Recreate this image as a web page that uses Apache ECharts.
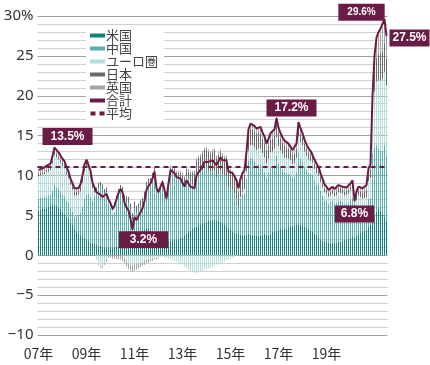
<!DOCTYPE html>
<html><head><meta charset="utf-8">
<script src="https://cdn.jsdelivr.net/npm/echarts@6/dist/echarts.min.js"></script>
<style>html,body{margin:0;padding:0;background:#fff}#c{width:430px;height:365px}</style>
</head><body><div id="c"></div>
<script>
const START_YEAR = 2007;
const MONTHS = 175;
const TICK_LABELS = ['07年','09年','11年','13年','15年','17年','19年'];
const AVERAGE = 11.1;

const US = [
5.6,5.7,5.8,5.9,6.0,6.1,6.2,6.3,6.3,6.2,6.0,5.8,
5.5,5.2,4.8,4.5,4.1,3.8,3.4,3.0,2.7,2.5,2.3,2.2,
2.0,1.8,1.6,1.5,1.4,1.3,1.2,1.2,1.1,1.0,1.0,1.0,
0.9,1.0,1.0,1.1,1.2,1.3,1.4,1.6,1.8,2.0,2.0,2.1,
2.2,2.3,2.5,2.7,3.0,3.2,3.4,3.3,3.0,2.8,2.5,2.3,
2.0,1.9,1.8,1.8,1.7,1.8,1.8,1.9,1.9,2.0,2.0,2.2,
2.3,2.5,2.7,2.9,3.1,3.3,3.5,3.6,3.8,3.9,4.0,4.1,
4.2,4.3,4.4,4.4,4.5,4.4,4.3,4.2,4.0,3.8,3.6,3.4,
3.2,3.0,2.8,2.7,2.6,2.6,2.5,2.5,2.6,2.7,2.6,2.5,
2.4,2.4,2.3,2.5,2.6,2.7,2.6,2.5,2.7,2.9,3.0,3.1,
3.2,3.3,3.2,3.3,3.4,3.5,3.6,3.7,3.8,3.8,3.9,3.8,
3.7,3.6,3.5,3.3,3.1,2.9,2.7,2.4,2.2,2.0,1.8,1.7,
1.6,1.6,1.5,1.5,1.6,1.6,1.7,1.7,1.8,1.9,2.0,2.1,
2.2,2.3,2.2,2.4,2.6,2.8,3.0,3.1,3.2,3.5,3.8,4.5,
5.0,5.5,5.8,5.6,5.2,4.8,4.3];

const CHINA = [
1.5,1.5,1.4,1.4,1.4,1.4,1.4,1.8,2.5,2.3,2.3,2.2,
2.1,2.2,2.0,2.1,1.8,1.7,1.5,2.0,2.4,2.8,3.8,4.9,
5.6,5.9,5.7,5.3,6.1,6.6,7.3,7.4,7.2,6.7,6.9,5.5,
4.9,4.1,4.4,5.3,6.1,6.7,6.5,5.3,4.8,4.5,3.7,2.4,
3.7,3.1,3.3,3.5,3.5,4.1,5.2,5.7,6.1,6.9,7.9,6.0,
5.7,6.3,7.0,6.0,5.1,6.9,8.6,8.4,8.3,7.8,7.7,7.5,
7.1,6.5,7.2,6.6,6.0,5.6,5.2,6.5,6.5,6.5,6.7,6.9,
6.9,6.4,6.0,6.2,6.2,5.4,5.9,6.5,6.2,6.2,6.4,5.2,
5.2,5.2,5.0,4.4,3.5,4.5,5.1,5.2,7.0,9.2,9.7,9.6,
9.3,8.9,9.1,8.9,8.3,7.7,7.1,7.8,8.3,8.1,8.3,9.4,
8.3,7.7,7.5,7.0,6.9,6.7,6.5,6.0,6.0,6.6,9.0,8.3,
8.1,7.5,7.2,7.0,7.1,7.2,6.7,6.6,6.6,6.1,5.7,5.3,
5.2,4.9,5.2,5.4,4.9,5.0,5.2,5.1,4.9,4.5,4.5,4.4,
4.7,4.9,2.5,3.2,3.5,3.0,2.5,2.4,2.3,3.6,3.4,8.2,
8.5,8.3,7.6,7.5,7.9,9.0,8.2];

const EURO = [
2.8,2.8,2.9,2.9,3.0,3.0,3.1,3.4,3.8,3.8,3.7,3.6,
3.6,3.5,3.3,3.1,2.9,2.7,2.6,2.5,2.5,2.7,3.0,3.4,
3.6,3.3,2.6,1.6,0.4,-0.6,-1.2,-1.5,-1.4,-1.0,-0.5,0.2,
0.4,0.5,0.6,0.5,0.3,0.1,-0.1,-0.4,-0.7,-1.0,-1.2,-1.3,
-1.2,-1.1,-1.0,-0.9,-0.8,-0.7,-0.6,-0.5,-0.4,-0.4,-0.3,-0.3,
-0.3,-0.2,-0.2,-0.3,-0.4,-0.4,-0.5,-0.6,-0.7,-0.8,-0.9,-1.0,
-1.2,-1.4,-1.6,-1.8,-2.0,-2.1,-2.2,-2.2,-2.1,-2.0,-1.9,-1.8,
-1.7,-1.6,-1.5,-1.4,-1.3,-1.2,-1.1,-1.0,-0.9,-0.8,-0.6,-0.5,
-0.4,-0.3,-0.2,-0.1,0.0,0.2,0.4,0.6,0.9,1.2,1.5,1.7,
1.8,1.9,2.0,2.0,1.9,1.9,1.8,1.8,1.9,2.0,2.1,2.3,
2.2,2.1,2.0,2.0,1.9,1.9,1.8,1.7,1.7,1.8,2.0,2.1,
2.0,1.9,1.8,1.7,1.6,1.5,1.4,1.3,1.2,1.1,1.0,0.9,
0.9,0.8,0.8,0.8,0.9,0.9,1.0,1.0,1.0,1.1,1.1,1.2,
1.2,1.3,1.2,1.3,1.4,1.5,1.6,1.7,1.8,2.2,2.5,5.0,
7.0,8.0,8.5,8.8,9.0,9.2,8.8];

const JAPAN = [
0.3,0.3,0.3,0.3,0.3,0.3,0.3,0.4,0.4,0.4,0.4,0.4,
0.4,0.4,0.4,0.4,0.4,0.4,0.5,0.5,0.5,0.6,0.6,0.6,
0.6,0.6,0.6,0.6,0.6,0.6,0.6,0.6,0.6,0.6,0.6,0.6,
0.6,0.6,0.6,0.6,0.7,0.7,0.7,0.7,0.8,0.8,0.8,0.8,
0.8,0.8,0.7,0.7,0.7,0.7,0.6,0.6,0.6,0.6,0.6,0.6,
0.6,0.6,0.6,0.6,0.6,0.6,0.6,0.6,0.6,0.6,0.6,0.6,
0.6,0.7,0.8,1.0,1.2,1.4,1.6,1.8,1.9,2.0,2.1,2.2,
2.2,2.3,2.3,2.4,2.4,2.4,2.4,2.3,2.3,2.2,2.2,2.1,
2.0,2.0,1.9,1.9,1.8,1.8,1.8,1.8,1.9,2.0,2.0,2.0,
2.0,2.0,1.9,1.9,1.8,1.8,1.7,1.7,1.6,1.6,1.6,1.6,
1.5,1.5,1.4,1.4,1.3,1.3,1.3,1.2,1.2,1.2,1.2,1.1,
1.0,1.0,0.9,0.9,0.8,0.8,0.7,0.7,0.6,0.6,0.6,0.5,
0.5,0.5,0.5,0.5,0.5,0.5,0.5,0.5,0.5,0.5,0.5,0.5,
0.5,0.5,0.5,0.6,0.6,0.7,0.8,0.8,0.9,1.0,1.0,1.5,
2.5,3.0,3.3,3.5,3.5,3.6,3.4];

const UK = [
0.5,0.5,0.5,0.5,0.5,0.5,0.5,0.5,0.5,0.5,0.5,0.5,
0.5,0.5,0.5,0.4,0.4,0.4,0.4,0.3,0.3,0.3,0.3,0.3,
0.2,0.2,0.1,0.1,0.0,0.0,-0.1,-0.1,-0.2,-0.2,-0.3,-0.3,
-0.3,-0.4,-0.4,-0.5,-0.5,-0.5,-0.6,-0.6,-0.7,-0.7,-0.7,-0.8,
-0.7,-0.7,-0.6,-0.6,-0.5,-0.5,-0.4,-0.4,-0.3,-0.3,-0.2,-0.2,
-0.1,0.0,0.0,0.1,0.1,0.1,0.2,0.2,0.2,0.2,0.3,0.3,
0.3,0.3,0.3,0.3,0.3,0.3,0.3,0.3,0.3,0.3,0.3,0.3,
0.3,0.3,0.3,0.3,0.3,0.3,0.3,0.3,0.3,0.3,0.3,0.3,
0.4,0.4,0.4,0.5,0.5,0.5,0.5,0.6,0.6,0.7,0.7,0.7,
0.7,0.7,0.7,0.8,0.8,0.8,0.8,0.8,0.8,0.8,0.8,0.8,
0.8,0.7,0.7,0.7,0.7,0.6,0.6,0.6,0.6,0.6,0.6,0.6,
0.5,0.5,0.5,0.5,0.5,0.5,0.5,0.5,0.5,0.5,0.5,0.5,
0.4,0.4,0.4,0.4,0.4,0.4,0.4,0.4,0.4,0.4,0.4,0.4,
0.4,0.4,0.4,0.5,0.5,0.5,0.5,0.6,0.6,0.6,0.7,0.8,
2.0,2.5,2.8,3.0,3.0,3.0,2.8];

const TOTAL = [
10.7,10.8,10.9,11.0,11.2,11.3,11.5,12.4,13.5,13.2,12.9,12.5,
12.1,11.8,11.0,10.5,9.6,9.0,8.4,8.3,8.4,8.9,10.0,11.4,
12.0,11.8,10.6,9.1,8.5,7.9,7.8,7.6,7.3,7.1,7.7,7.0,
6.5,5.8,6.2,7.0,7.8,8.3,7.9,6.6,6.0,5.6,4.6,3.2,
4.8,4.4,4.9,5.4,5.9,6.8,8.2,8.7,9.0,9.6,10.5,8.4,
7.9,8.6,9.2,8.2,7.1,9.0,10.7,10.5,10.3,9.8,9.7,9.6,
9.1,8.6,9.4,9.0,8.6,8.5,8.4,10.0,10.4,10.7,11.2,11.7,
11.9,11.7,11.5,11.9,12.1,11.3,11.8,12.3,11.9,11.7,11.9,10.5,
10.4,10.3,9.9,9.4,8.4,9.6,10.3,10.7,13.0,15.8,16.5,16.5,
16.2,15.9,16.0,16.1,15.4,14.9,14.0,14.6,15.3,15.4,15.8,17.2,
16.0,15.3,14.8,14.4,14.2,14.0,13.8,13.2,13.3,14.0,16.7,15.9,
15.3,14.5,13.9,13.4,13.1,12.9,12.0,11.5,11.1,10.3,9.6,8.9,
8.6,8.2,8.4,8.6,8.3,8.4,8.8,8.7,8.6,8.4,8.5,8.6,
9.0,9.4,6.8,8.0,8.6,8.5,8.4,8.6,8.8,10.9,11.4,20.0,
25.0,27.3,28.0,28.4,28.6,29.6,27.5];

const ANNOT_INDEX = [8, 47, 119, 158, 173, 174];
const ANNOT_STYLE = [
  {offset:[13,-11], padding:[3,8,2,8], fontSize:12},
  {offset:[11,10], padding:[3,11,2,11], fontSize:12},
  {offset:[15,-10], padding:[3,8,2,8], fontSize:12},
  {offset:[0,13], padding:[3,6,2,6], fontSize:12},
  {offset:[-23,-7], padding:[4,9,3,9], fontSize:10},
  {offset:[23,2], padding:[3,3,2,3], fontSize:12}
];

const categories = [];
for (let i = 0; i < MONTHS; i++) {
  categories.push((START_YEAR + Math.floor(i / 12)) + '/' + (i % 12 + 1));
}

const COLORS = {us:'#12807c', cn:'#58b0ad', eu:'#b4dedd', jp:'#6a6a6a', uk:'#a5a5a5', total:'#6b1c46'};

const bar = (name, data, color) => ({
  name, type:'bar', stack:'all', data, barWidth:1,
  itemStyle:{color}, emphasis:{disabled:true}, silent:true
});

const chart = echarts.init(document.getElementById('c'), null, {renderer:'canvas'});
chart.setOption({
  animation:false,
  grid:{left:37.5, right:42.5, top:16, bottom:30, containLabel:false},
  xAxis:{
    type:'category', data:categories,
    axisLine:{show:false, onZero:false}, axisTick:{show:false},
    axisLabel:{
      interval:(i)=> i % 24 === 0,
      formatter:(v, i)=> TICK_LABELS[i / 24] || '',
      fontSize:14, color:'#333', margin:12, fontFamily:'Noto Sans CJK JP'
    },
    splitLine:{show:false}
  },
  yAxis:{
    type:'value', min:-10, max:30, interval:1,
    axisLine:{show:false}, axisTick:{show:false},
    axisLabel:{
      formatter:(v)=> (v % 5 !== 0) ? '' : (v === 30 ? '30%' : (v < 0 ? '\u2212' + (-v) : String(v))),
      fontSize:15, color:'#333', margin:4, fontFamily:'Noto Sans'
    },
    splitLine:{lineStyle:{color:['#a3a3a3','#d0d0d0','#d0d0d0','#d0d0d0','#d0d0d0'], width:1}}
  },
  legend:{
    orient:'vertical', left:86, top:26, backgroundColor:'#fff',
    padding:[3,6,3,4], itemGap:0, itemWidth:15, itemHeight:4,
    textStyle:{fontSize:13, lineHeight:11.5, color:'#444', fontFamily:'Noto Sans CJK JP', padding:[0,0,0,-4]},
    data:[
      {name:'米国', icon:'rect'},
      {name:'中国', icon:'rect'},
      {name:'ユーロ圏', icon:'rect'},
      {name:'日本', icon:'rect'},
      {name:'英国', icon:'rect'},
      {name:'合計', icon:'rect'},
      {name:'平均', icon:'path://M0,0h5v4h-5z M9,0h5v4h-5z'}
    ]
  },
  series:[
    bar('米国', US, COLORS.us),
    bar('中国', CHINA, COLORS.cn),
    bar('ユーロ圏', EURO, COLORS.eu),
    bar('日本', JAPAN, COLORS.jp),
    bar('英国', UK, COLORS.uk),
    {
      name:'合計', type:'line', data:TOTAL, symbol:'none', z:5, silent:true,
      lineStyle:{color:COLORS.total, width:2}, itemStyle:{color:COLORS.total},
      markLine:{
        silent:true, symbol:'none', label:{show:false},
        lineStyle:{color:COLORS.total, type:[5,4], width:2},
        data:[{yAxis:AVERAGE}]
      }
    },
    {name:'平均', type:'line', data:[], itemStyle:{color:COLORS.total}, lineStyle:{color:COLORS.total, type:'dashed'}},
    {
      type:'scatter', z:10, symbol:'rect', symbolSize:1, itemStyle:{color:COLORS.total, opacity:1}, silent:true,
      data: ANNOT_INDEX.map((i, k) => ({
        value:[i, TOTAL[i]],
        label:{
          show:true, position:'inside', offset:ANNOT_STYLE[k].offset,
          padding:ANNOT_STYLE[k].padding, fontSize:ANNOT_STYLE[k].fontSize,
          formatter:(p)=> p.value[1].toFixed(1) + '%',
          color:'#fff', fontWeight:'bold', fontFamily:'Liberation Sans',
          backgroundColor:COLORS.total, opacity:1
        }
      }))
    }
  ]
});
</script></body></html>
